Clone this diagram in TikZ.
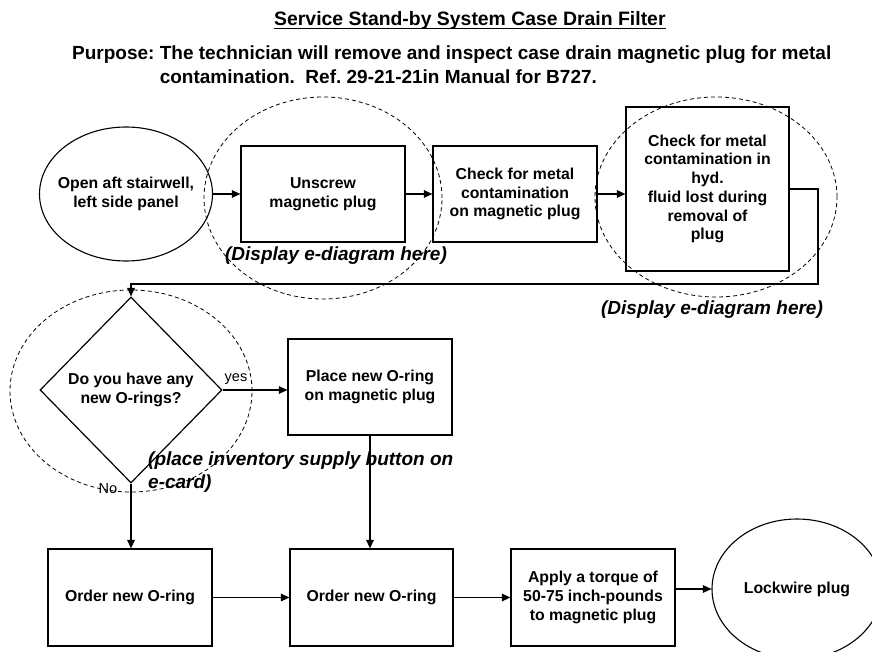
\documentclass[tikz,border=0pt]{standalone}
\usepackage{fontspec}
\setmainfont{Liberation Sans}
\usetikzlibrary{shapes.geometric,arrows.meta}
\begin{document}
\frenchspacing
\begin{tikzpicture}[x=1pt,y=-1pt,
  every node/.style={font=\bfseries\fontsize{15.8}{18.7}\selectfont, align=center},
  box/.style={draw, line width=1.2pt, rectangle, inner sep=0pt},
  oval/.style={draw, line width=1.1pt, ellipse, inner ysep=0pt},
  hint/.style={draw, dash pattern=on 4pt off 3pt, line width=0.8pt, ellipse, inner sep=0pt},
  flow/.style={line width=1.2pt, -{Triangle[length=8.5pt,width=7.5pt]}},
  note/.style={font=\bfseries\itshape\fontsize{19}{24}\selectfont},
  small/.style={font=\fontsize{14.5}{16}\selectfont}
]
\useasboundingbox (0,0) rectangle (872,652);
\fill[white] (0,0) rectangle (872,652);

% title
\node (title) [anchor=base west, inner sep=0pt, font=\bfseries\fontsize{19.4}{22}\selectfont] at (274,26) {Service Stand-by System Case Drain Filter};
\draw[line width=1.3pt] ([yshift=-2.5pt]title.base west) -- ([yshift=-2.5pt]title.base east);
\node (purpose) [anchor=base west, align=left, inner sep=0pt, font=\bfseries\fontsize{19}{24.5}\selectfont] at (72,84)
  {Purpose: The technician will remove and inspect case drain magnetic plug for metal\\
   \phantom{Purpose:\ }contamination.\ \ Ref. 29-21-21in Manual for B727.};

% dashed hint ellipses
\node (h1) [hint, minimum width=238pt, minimum height=202pt] at (323,198) {};
\node (h2) [hint, minimum width=242pt, minimum height=200pt] at (716,197) {};
\node (h3) [hint, minimum width=242pt, minimum height=202pt] at (131,391) {};

% top row
\node (open) [oval, inner xsep=-8pt, minimum width=173pt, minimum height=134pt] at (126,194) {Open aft stairwell,\\left side panel};
\node (unscrew) [box, minimum width=164pt, minimum height=96pt] at (323,194) {Unscrew\\magnetic plug};
\node (check1) [box, minimum width=164pt, minimum height=96pt] at (515,194) {Check for metal\\contamination\\on magnetic plug};
\node (check2) [box, minimum width=163pt, minimum height=164pt] at (707.5,189) {Check for metal\\contamination in\\hyd.\\fluid lost during\\removal of\\plug};

% decision
\node (dia) [draw, line width=1.2pt, diamond, inner sep=0pt, minimum width=182pt, minimum height=186pt] at (131,390) {Do you have any\\new O-rings?};
\node (place) [box, minimum width=164pt, minimum height=96pt] at (370,387) {Place new O-ring\\on magnetic plug};

% bottom row
\node (order1) [box, minimum width=164pt, minimum height=97pt] at (130,597.5) {Order new O-ring};
\node (order2) [box, minimum width=163pt, minimum height=97pt] at (371.5,597.5) {Order new O-ring};
\node (torque) [box, minimum width=164pt, minimum height=97pt] at (593,597.5) {Apply a torque of\\50-75 inch-pounds\\to magnetic plug};
\node (lock) [oval, inner xsep=0pt, minimum width=170pt, minimum height=140pt] at (797,589) {Lockwire plug};

% notes
\node (note1) [note] at (336,256) {(Display e-diagram here)};
\node (note2) [note] at (712,310) {(Display e-diagram here)};
\node (note3) [note, anchor=north west, align=left, inner sep=0pt, font=\bfseries\itshape\fontsize{19}{23}\selectfont] at (148,452) {(place inventory supply button on\\e-card)};
\node (yes) [small] at (236,379) {yes};
\node (no) [small] at (108,489) {No};

% connectors
\coordinate (c1) at (818,189);
\coordinate (c2) at (818,284);
\coordinate (c3) at (131,284);
\draw[flow] (open.east |- unscrew.west) -- (unscrew.west);
\draw[flow] (unscrew.east) -- (check1.west);
\draw[flow] (check1.east) -- (check1.east -| check2.west);
\draw[flow] (check2.east) -- (c1) -- (c2) -- (c3) -- (dia.north);
\draw[flow] (dia.east) -- (dia.east -| place.west);
\draw[flow] (dia.south) -- (dia.south |- order1.north);
\draw[flow] (place.south) -- (place.south |- order2.north);
\draw[flow] (order1.east) -- (order2.west);
\draw[flow] (order2.east) -- (torque.west);
\draw[flow] (torque.east |- lock.west) -- (lock.west);
\end{tikzpicture}
\end{document}
